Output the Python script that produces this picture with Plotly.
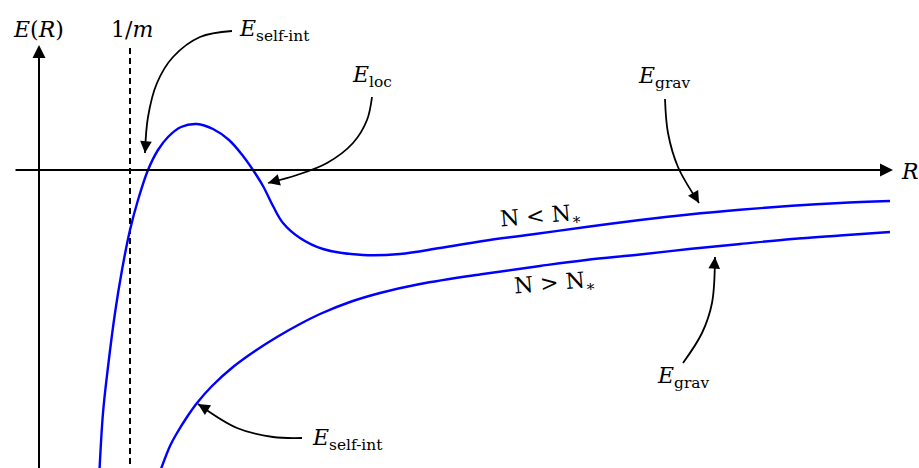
import math
import plotly.graph_objects as go

# ---- data (chart units: R to the right of the E axis, E above the R axis) ----
r_below = [0.60, 0.64, 0.69, 0.76, 0.83, 0.91, 0.99, 1.09, 1.19, 1.29, 1.42, 1.58, 1.74, 1.90, 2.04,
           2.14, 2.24, 2.34, 2.44, 2.61, 2.84, 3.24, 3.61, 4.01, 4.44, 4.96, 5.47, 6.01, 6.50, 7.01,
           7.53, 8.01, 8.51]
e_below = [-3.10, -2.43, -1.97, -1.43, -1.00, -0.60, -0.30, 0.00, 0.20, 0.33, 0.43, 0.46, 0.41, 0.30, 0.14,
           0.00, -0.16, -0.36, -0.53, -0.68, -0.79, -0.85, -0.84, -0.78, -0.71, -0.64, -0.57, -0.50, -0.445,
           -0.398, -0.358, -0.33, -0.31]

r_above = [1.18, 1.31, 1.38, 1.48, 1.58, 1.73, 1.94, 2.16, 2.38, 2.61, 2.81, 3.11, 3.41, 3.81, 4.44,
           5.01, 5.47, 6.01, 6.50, 7.01, 7.53, 8.01, 8.51]
e_above = [-3.10, -2.76, -2.63, -2.47, -2.33, -2.16, -1.97, -1.81, -1.67, -1.54, -1.44, -1.32, -1.23, -1.14,
           -1.04, -0.96, -0.90, -0.845, -0.79, -0.74, -0.69, -0.655, -0.62]

one_over_m = 0.91

# curved pointer arrows (label -> curve)
arrow_selfint_top_r = [1.93, 1.61, 1.34, 1.18, 1.09, 1.06]
arrow_selfint_top_e = [1.39, 1.33, 1.13, 0.87, 0.53, 0.17]
arrow_loc_r = [3.33, 3.28, 3.14, 2.88, 2.58, 2.29]
arrow_loc_e = [0.73, 0.50, 0.27, 0.07, -0.05, -0.13]
arrow_grav_top_r = [6.26, 6.29, 6.39, 6.60]
arrow_grav_top_e = [0.71, 0.37, 0.03, -0.33]
arrow_grav_bot_r = [6.44, 6.63, 6.73, 6.76]
arrow_grav_bot_e = [-1.93, -1.63, -1.33, -0.87]
arrow_selfint_bot_r = [2.63, 2.34, 1.98, 1.59]
arrow_selfint_bot_e = [-2.68, -2.67, -2.58, -2.34]

FONT = "DejaVu Serif"
FS = 22
BLUE = "#0000ff"

fig = go.Figure()

# dashed 1/m line
fig.add_trace(go.Scatter(x=[one_over_m, one_over_m], y=[1.22, -3.05], mode="lines",
                         line=dict(color="black", width=2, dash="6px,4px"), hoverinfo="skip"))

# energy curves
for rr, ee in [(r_below, e_below), (r_above, e_above)]:
    fig.add_trace(go.Scatter(x=rr, y=ee, mode="lines",
                             line=dict(color=BLUE, width=2.4, shape="spline", smoothing=1.0),
                             hoverinfo="skip"))

anns = []
# axes with arrowheads
anns.append(dict(x=8.54, y=0, ax=-0.25, ay=0, xref="x", yref="y", axref="x", ayref="y",
                 showarrow=True, arrowhead=2, arrowsize=1.3, arrowwidth=2, arrowcolor="black", text=""))
anns.append(dict(x=0, y=1.25, ax=0, ay=-3.05, xref="x", yref="y", axref="x", ayref="y",
                 showarrow=True, arrowhead=2, arrowsize=1.3, arrowwidth=2, arrowcolor="black", text=""))

# curved pointers
for rr, ee in [(arrow_selfint_top_r, arrow_selfint_top_e), (arrow_loc_r, arrow_loc_e),
               (arrow_grav_top_r, arrow_grav_top_e), (arrow_grav_bot_r, arrow_grav_bot_e),
               (arrow_selfint_bot_r, arrow_selfint_bot_e)]:
    fig.add_trace(go.Scatter(x=rr, y=ee, mode="lines", line=dict(color="black", width=1.8, shape="spline"),
                             hoverinfo="skip"))
    dx, dy = rr[-2] - rr[-1], ee[-2] - ee[-1]
    d = math.hypot(dx, dy)
    tail_r = rr[-1] + 0.12 * dx / d
    tail_e = ee[-1] + 0.12 * dy / d
    anns.append(dict(x=rr[-1], y=ee[-1], ax=tail_r, ay=tail_e, xref="x", yref="y", axref="x", ayref="y",
                     showarrow=True, arrowhead=2, arrowsize=1.3, arrowwidth=1.8, arrowcolor="black", text=""))

def label(txt, x, y, xanchor="center", angle=0):
    anns.append(dict(x=x, y=y, xref="x", yref="y", text=txt, showarrow=False, xanchor=xanchor,
                     yanchor="middle", textangle=angle, font=dict(family=FONT, size=FS, color="black")))

label("<i>E</i>(<i>R</i>)", -0.01, 1.41)
label("1/<i>m</i>", 0.93, 1.41)
label("<i>R</i>", 8.71, -0.01)
label("<i>E</i><sub>self-int</sub>", 1.98, 1.40, xanchor="left")
label("<i>E</i><sub>loc</sub>", 3.11, 0.94, xanchor="left")
label("<i>E</i><sub>grav</sub>", 5.97, 0.93, xanchor="left")
label("<i>E</i><sub>grav</sub>", 6.16, -2.07, xanchor="left")
label("<i>E</i><sub>self-int</sub>", 2.71, -2.69, xanchor="left")
label("N &lt; N<sub>∗</sub>", 5.01, -0.47, angle=-5)
label("N &gt; N<sub>∗</sub>", 5.15, -1.14, angle=-5)

fig.update_layout(
    width=919, height=468, margin=dict(l=0, r=0, t=0, b=0),
    paper_bgcolor="white", plot_bgcolor="white", showlegend=False,
    xaxis=dict(range=[-0.39, 8.80], visible=False, fixedrange=True),
    yaxis=dict(range=[-2.98, 1.70], visible=False, fixedrange=True),
    annotations=anns,
)

fig.write_html("out.html", config={"displayModeBar": False},
               post_script="document.body.style.margin='0';document.body.style.padding='0';")
